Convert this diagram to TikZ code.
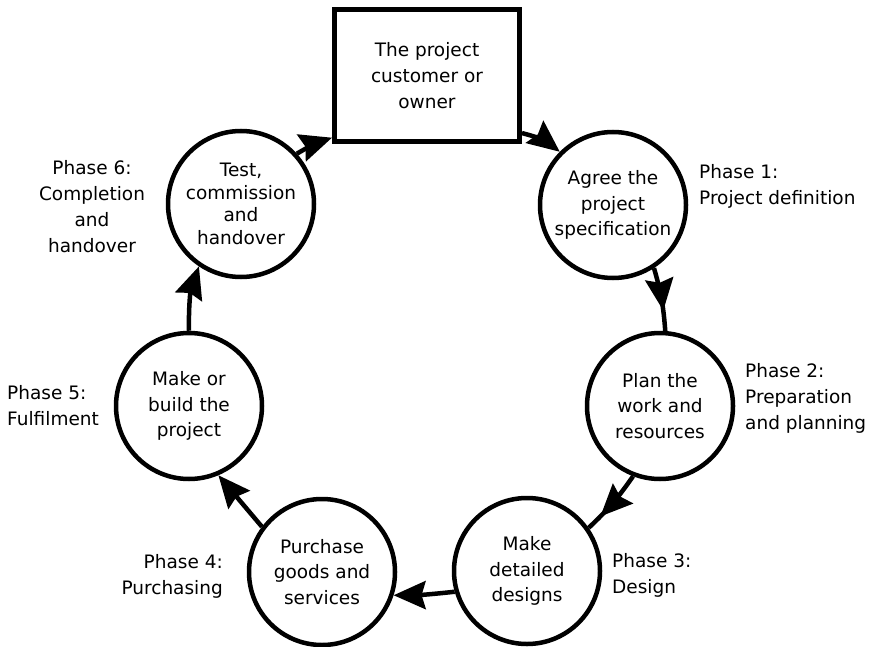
\documentclass[tikz,border=0pt]{standalone}
\usepackage{fontspec}
\setmainfont{DejaVu Sans}
\usetikzlibrary{arrows.meta,decorations.markings}

\begin{document}
\begin{tikzpicture}[x=1pt,y=-1pt,
	stage/.style={circle, draw, line width=4.5pt, minimum size=146pt, inner sep=0pt, align=center, font=\fontsize{18.5}{25.5}\selectfont},
	ownerbox/.style={draw, line width=5pt, minimum width=185pt, minimum height=132pt, inner sep=0pt, align=center, font=\fontsize{18.5}{26}\selectfont},
	phase/.style={inner sep=0pt, font=\fontsize{18.5}{26}\selectfont},
	flow/.style={line width=4.5pt, -{Stealth[length=32pt,width=28pt,inset=4pt]}},
	midflow/.style={line width=4.5pt, postaction={decorate}, decoration={markings, mark=at position #1 with {\arrow{Stealth[length=32pt,width=28pt,inset=4pt]}}}}]

	\useasboundingbox (0,0) rectangle (869,647);

	%owner
	\node[ownerbox] (owner) at (427,76) {The project\\customer or\\owner};

	%phase circles
	\node[stage] (spec) at (613,205) {Agree the\\project\\specification};
	\node[stage] (plan) at (660,406) {Plan the\\work and\\resources};
	\node[stage] (design) at (527,571) {Make\\detailed\\designs};
	\node[stage] (purchase) at (322,572) {Purchase\\goods and\\services};
	\node[stage] (build) at (189,406) {Make or\\build the\\project};
	\node[stage, font=\fontsize{18.5}{22.5}\selectfont] (handover) at (241,204) {Test,\\commission\\and\\handover};

	%phase names
	\node[phase, anchor=west, align=left] (p1) at (699,186) {Phase 1:\\Project definition};
	\node[phase, anchor=west, align=left] (p2) at (745,398) {Phase 2:\\Preparation\\and planning};
	\node[phase, anchor=west, align=left] (p3) at (612,575) {Phase 3:\\Design};
	\node[phase, anchor=east, align=right] (p4) at (223,576) {Phase 4:\\Purchasing};
	\node[phase, anchor=west, align=left] (p5) at (7,406) {Phase 5:\\Fulfilment};
	\node[phase, align=center] (p6) at (92,207) {Phase 6:\\Completion\\and\\handover};

	%cycle
	\draw[flow] (owner.-31) to[bend left=12] (spec.135);
	\draw[midflow=0.68] (spec.-57) to[bend left=6] (plan.86);
	\draw[midflow=0.76] (plan.-111) to[bend left=6] (design.35);
	\draw[flow] (design.196) to[bend left=3] (purchase.-18);
	\draw[flow] (purchase.143) -- (build.-67);
	\draw[flow] (build.90) to[bend left=10] (handover.-124);
	\draw[flow] (handover.42) to[bend left=6] (owner.213);

\end{tikzpicture}
\end{document}
